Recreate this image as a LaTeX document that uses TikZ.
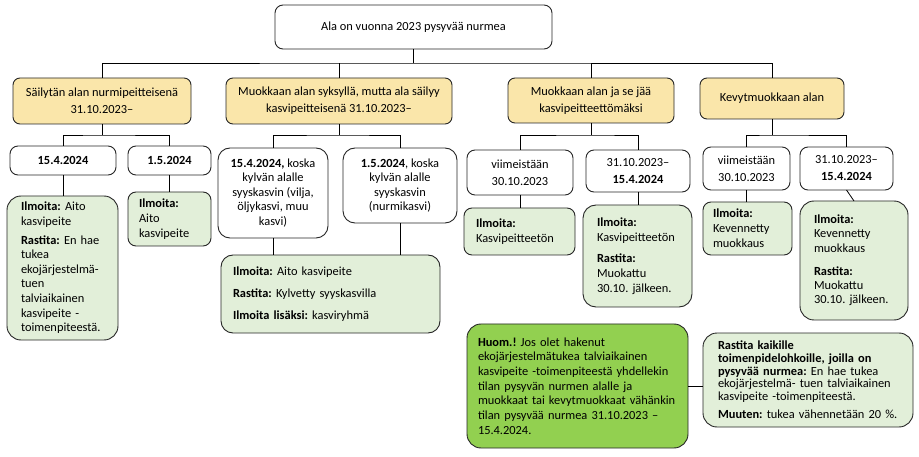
\documentclass[tikz,border=0pt]{standalone}
\usepackage{fontspec}
\setmainfont{Carlito}
\definecolor{yel}{HTML}{FAE6AA}
\definecolor{lgreen}{HTML}{E2EFD9}
\definecolor{bgreen}{HTML}{92D050}
\definecolor{edge}{HTML}{262626}
\tikzset{
  bx/.style={draw=edge, line width=0.9pt, inner sep=0pt, outer sep=0pt},
  yelbox/.style={bx, fill=yel, rounded corners=7pt, align=center, font=\fontsize{12.4}{17}\selectfont},
  whbox/.style={bx, fill=white, rounded corners=8pt, align=center, font=\fontsize{12.4}{17}\selectfont},
  grbox/.style={bx, fill=lgreen, align=left, font=\fontsize{12.4}{14.6}\selectfont},
  conn/.style={draw=black, line width=0.8pt},
}
\begin{document}
\frenchspacing
\begin{tikzpicture}[x=1pt, y=-1pt]
\useasboundingbox (0,0) rectangle (919,457);

% top
\node[whbox, minimum width=277pt, minimum height=44pt] (top) at (413.5,27) {Ala on vuonna 2023 pysyvää nurmea};

% level 1
\node[yelbox, minimum width=178pt, minimum height=46pt] (y1) at (102,101) {Säilytän alan nurmipeitteisenä\\31.10.2023–};
\node[yelbox, minimum width=226pt, minimum height=46pt] (y2) at (339,101) {Muokkaan alan syksyllä, mutta ala säilyy\\kasvipeitteisenä 31.10.2023–};
\node[yelbox, minimum width=166pt, minimum height=45pt] (y3) at (591,100.5) {Muokkaan alan ja se jää\\kasvipeitteettömäksi};
\node[yelbox, minimum width=144pt, minimum height=41pt] (y4) at (772,98.5) {Kevytmuokkaan alan};

% level 2
\node[whbox, minimum width=106pt, minimum height=29pt] (w11) at (63,160.5) {\textbf{15.4.2024}};
\node[whbox, minimum width=83pt, minimum height=29pt] (w12) at (169.5,160.5) {\textbf{1.5.2024}};
\node[whbox, minimum width=110pt, minimum height=90pt, rounded corners=12pt, font=\fontsize{12.4}{14.5}\selectfont] (w21) at (273,193) {\textbf{15.4.2024,} koska\\kylvän alalle\\syyskasvin (vilja,\\öljykasvi, muu\\kasvi)};
\node[whbox, minimum width=114pt, minimum height=75pt, rounded corners=12pt, font=\fontsize{12.4}{14.5}\selectfont] (w22) at (400,185.5) {\textbf{1.5.2024}, koska\\kylvän alalle\\syyskasvin\\(nurmikasvi)};
\node[whbox, minimum width=106pt, minimum height=45pt] (w31) at (520,172.5) {viimeistään\\30.10.2023};
\node[whbox, minimum width=104pt, minimum height=42pt] (w32) at (638,171) {31.10.2023–\\\textbf{15.4.2024}};
\node[whbox, minimum width=87pt, minimum height=43pt] (w41) at (746.5,168.5) {viimeistään\\30.10.2023};
\node[whbox, minimum width=93pt, minimum height=43pt] (w42) at (846.5,168.5) {31.10.2023–\\\textbf{15.4.2024}};

% green boxes
\node[grbox, minimum width=111pt, minimum height=144pt, text width=83pt, inner xsep=14pt, rounded corners=14pt] (g11) at (62.5,268)
  {\textbf{Ilmoita:} Aito\\kasvipeite\\[4pt]\textbf{Rastita:} En hae\\tukea\\ekojärjestelmä-\\tuen\\talviaikainen\\kasvipeite -\\toimenpiteestä.};
\node[grbox, minimum width=83pt, minimum height=54pt, text width=61pt, inner xsep=11pt, rounded corners=8pt, font=\fontsize{12.4}{15}\selectfont] (g12) at (169.5,219)
  {\textbf{Ilmoita:}\\Aito\\kasvipeite};
\node[grbox, minimum width=219pt, minimum height=78pt, text width=195pt, inner xsep=12pt, rounded corners=12pt] (g2) at (330.5,294)
  {\textbf{Ilmoita:} Aito kasvipeite\\[7.5pt]\textbf{Rastita:} Kylvetty syyskasvilla\\[7.5pt]\textbf{Ilmoita lisäksi:} kasviryhmä};
\node[grbox, minimum width=111pt, minimum height=47pt, text width=87pt, inner xsep=12pt, rounded corners=8pt, font=\fontsize{12.4}{15}\selectfont] (g31) at (519.5,231.5)
  {\textbf{Ilmoita:}\\Kasvipeitteetön};
\node[grbox, minimum width=109pt, minimum height=102pt, text width=81pt, inner xsep=14pt, rounded corners=13pt, font=\fontsize{12.4}{15}\selectfont] (g32) at (637.5,256)
  {\textbf{Ilmoita:}\\Kasvipeitteetön\\[6pt]\textbf{Rastita:}\\Muokattu\\30.10. jälkeen.};
\node[grbox, minimum width=89pt, minimum height=53pt, text width=69pt, inner xsep=10pt, rounded corners=8pt, font=\fontsize{12.4}{15}\selectfont] (g41) at (747.5,228.5)
  {\textbf{Ilmoita:}\\Kevennetty\\muokkaus};
\node[grbox, minimum width=108pt, minimum height=119pt, text width=80pt, inner xsep=14pt, rounded corners=14pt, font=\fontsize{12.4}{14.2}\selectfont] (g42) at (854,260.5)
  {\textbf{Ilmoita:}\\Kevennetty\\muokkaus\\[9pt]\textbf{Rastita:}\\Muokattu\\30.10. jälkeen.};

% bottom boxes
\node[grbox, fill=bgreen, minimum width=221pt, minimum height=124pt, text width=199pt, inner xsep=11pt, rounded corners=14pt, font=\fontsize{12.4}{14.7}\selectfont] (huom) at (577.5,386)
  {\textbf{Huom.!} Jos olet hakenut\\ekojärjestelmätukea talviaikainen\\kasvipeite -toimenpiteestä yhdellekin\\tilan pysyvän nurmen alalle ja\\muokkaat tai kevytmuokkaat vähänkin\\tilan pysyvää nurmea 31.10.2023 –\\15.4.2024.};
\node[grbox, minimum width=210pt, minimum height=94pt, text width=180pt, inner xsep=15pt, rounded corners=14pt, font=\fontsize{12.4}{12.6}\selectfont] (rb) at (808,380)
  {\textbf{Rastita kaikille}\\\textbf{toimenpidelohkoille, joilla on}\\\textbf{pysyvää nurmea:} En hae tukea\\ekojärjestelmä- tuen talviaikainen\\kasvipeite -toimenpiteestä.\\[6pt]\textbf{Muuten:} tukea vähennetään 20 \%.};

% connectors: top level
\draw[conn] (top.south) -- ++(0,14) coordinate (tb);
\draw[conn] (y1.north) |- (tb) -| (y4.north);
\draw[conn] (y2.north) -- (y2.north |- tb);
\draw[conn] (y3.north) -- (y3.north |- tb);

% level 2 buses
\draw[conn] (y1.south) -- ++(0,11) coordinate (b1);
\draw[conn] (w11.north) |- (b1) -| (w12.north);
\draw[conn] (y2.south) -- ++(0,11) coordinate (b2);
\draw[conn] (w21.north) |- (b2) -| (w22.north);
\draw[conn] (y3.south) -- ++(0,12) coordinate (b3);
\draw[conn] (w31.north) |- (b3) -| (w32.north);
\draw[conn] (y4.south) -- ++(0,16) coordinate (b4);
\draw[conn] (w41.north) |- (b4) -| (w42.north);

% to green boxes
\draw[conn] (w11.south) -- (w11.south |- g11.north);
\draw[conn] (w12.south) -- (w12.south |- g12.north);
\draw[conn] (w21.south) -- (w21.south |- g2.north);
\draw[conn] (w22.south) -- (w22.south |- g2.north);
\draw[conn] (w31.south) -- (w31.south |- g31.north);
\draw[conn] (w32.south) -- (w32.south |- g32.north);
\draw[conn] (w41.south) -- (w41.south |- g41.north);
\draw[conn] (w42.south) -- (g42.north);

% bottom link
\draw[conn] (huom.east) -- (huom.east -| rb.west);
\end{tikzpicture}
\end{document}
